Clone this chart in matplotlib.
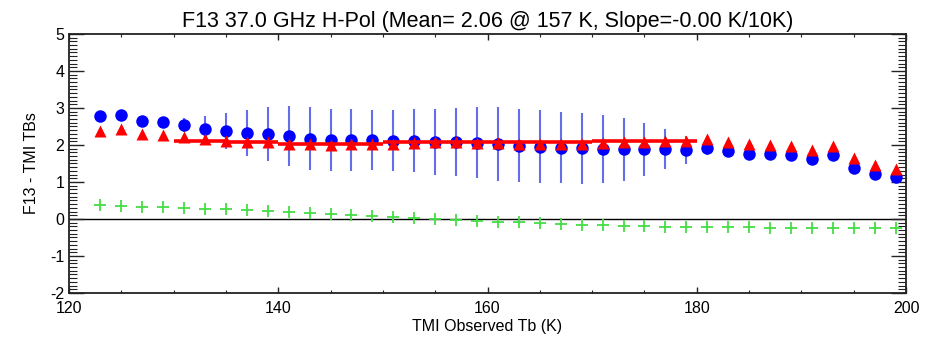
import matplotlib as mpl
mpl.use("Agg")
import matplotlib.pyplot as plt
from matplotlib.ticker import MultipleLocator

mpl.rcParams.update({"font.family": ["Liberation Sans", "DejaVu Sans"],
                     "axes.unicode_minus": False})

tb = list(range(123, 200, 2))

# F13 - TMI, mean difference per bin (blue dots)
diff_mean = [2.79, 2.81, 2.65, 2.61, 2.53, 2.42, 2.37, 2.32, 2.29, 2.24,
             2.17, 2.14, 2.13, 2.13, 2.12, 2.11, 2.09, 2.08, 2.06, 2.03,
             1.98, 1.95, 1.93, 1.91, 1.89, 1.88, 1.88, 1.89, 1.86, 1.91,
             1.85, 1.76, 1.76, 1.73, 1.61, 1.72, 1.38, 1.21, 1.13]
# standard deviation bars
diff_std = [0, 0, 0, 0, 0.19, 0.36, 0.49, 0.62, 0.73, 0.82,
            0.85, 0.84, 0.83, 0.81, 0.82, 0.85, 0.89, 0.92, 0.96, 0.99,
            0.99, 0.99, 0.97, 0.96, 0.91, 0.84, 0.71, 0.54, 0.38, 0.19,
            0, 0, 0, 0, 0, 0, 0, 0, 0]
# second estimate (red triangles)
diff_alt = [2.39, 2.43, 2.31, 2.28, 2.21, 2.16, 2.10, 2.08, 2.07, 2.03,
            2.02, 2.01, 2.02, 2.02, 2.04, 2.06, 2.07, 2.07, 2.06, 2.05,
            2.03, 2.03, 2.02, 2.02, 2.06, 2.08, 2.09, 2.10, 2.11, 2.15,
            2.09, 2.02, 2.00, 1.98, 1.86, 1.98, 1.64, 1.46, 1.35]
# green crosses
diff_low = [0.38, 0.36, 0.33, 0.32, 0.30, 0.28, 0.26, 0.24, 0.22, 0.18,
            0.15, 0.13, 0.11, 0.08, 0.05, 0.02, -0.01, -0.03, -0.05, -0.07,
            -0.09, -0.12, -0.14, -0.15, -0.16, -0.18, -0.19, -0.21, -0.21, -0.22,
            -0.22, -0.22, -0.23, -0.23, -0.23, -0.23, -0.24, -0.24, -0.24]

# binned mean (red line)
bin_lo = [130, 135, 140, 145, 150, 155, 160, 165, 170, 175]
bin_hi = [135, 140, 145, 150, 155, 160, 165, 170, 175, 180]
bin_mean = [2.12, 2.08, 2.03, 2.03, 2.07, 2.07, 2.07, 2.07, 2.10, 2.10]

fig = plt.figure(figsize=(9.48, 3.42), dpi=100)
ax = fig.add_axes([0.0728, 0.1433, 0.8829, 0.7573])

ax.axhline(0, color="black", lw=1.0, zorder=1)
ax.errorbar(tb, diff_mean, yerr=diff_std, fmt="none", ecolor="#4a55e6",
            elinewidth=1.5, capsize=0, alpha=0.85, zorder=2)
ax.plot(tb, diff_mean, "o", color="#0000ff", ms=9, mec="none", zorder=3)
ax.hlines(bin_mean, bin_lo, bin_hi, color="#ff0000", lw=2.6, zorder=4)
ax.plot(tb, diff_alt, "^", color="#ff0000", ms=8, mec="none", zorder=5)
ax.plot(tb, diff_low, "+", color="#44dd44", ms=8, mew=1.3, zorder=3)

ax.set_xlim(120, 200)
ax.set_ylim(-2, 5)
ax.xaxis.set_major_locator(MultipleLocator(20))
ax.xaxis.set_minor_locator(MultipleLocator(5))
ax.yaxis.set_major_locator(MultipleLocator(1))
ax.yaxis.set_minor_locator(MultipleLocator(0.1))

ax.tick_params(axis="both", which="both", direction="in", top=True, right=True,
               colors="#222222", labelsize=11.5, labelcolor="black")
ax.tick_params(axis="y", which="major", length=11, width=1.0)
ax.tick_params(axis="y", which="minor", length=6, width=0.8)
ax.tick_params(axis="x", which="major", length=4, width=1.0, pad=6)
ax.tick_params(axis="x", which="minor", length=2, width=0.8)
for sp in ax.spines.values():
    sp.set_linewidth(1.3)
    sp.set_color("#222222")

ax.set_xlabel("TMI Observed Tb (K)", fontsize=11.5, labelpad=2)
ax.set_ylabel("F13 - TMI TBs", fontsize=11.5, labelpad=8)
ax.set_title("F13 37.0 GHz H-Pol (Mean= 2.06 @ 157 K, Slope=-0.00 K/10K)",
             fontsize=15.5, pad=5)

fig.savefig("out.png", dpi=100)
plt.close(fig)
